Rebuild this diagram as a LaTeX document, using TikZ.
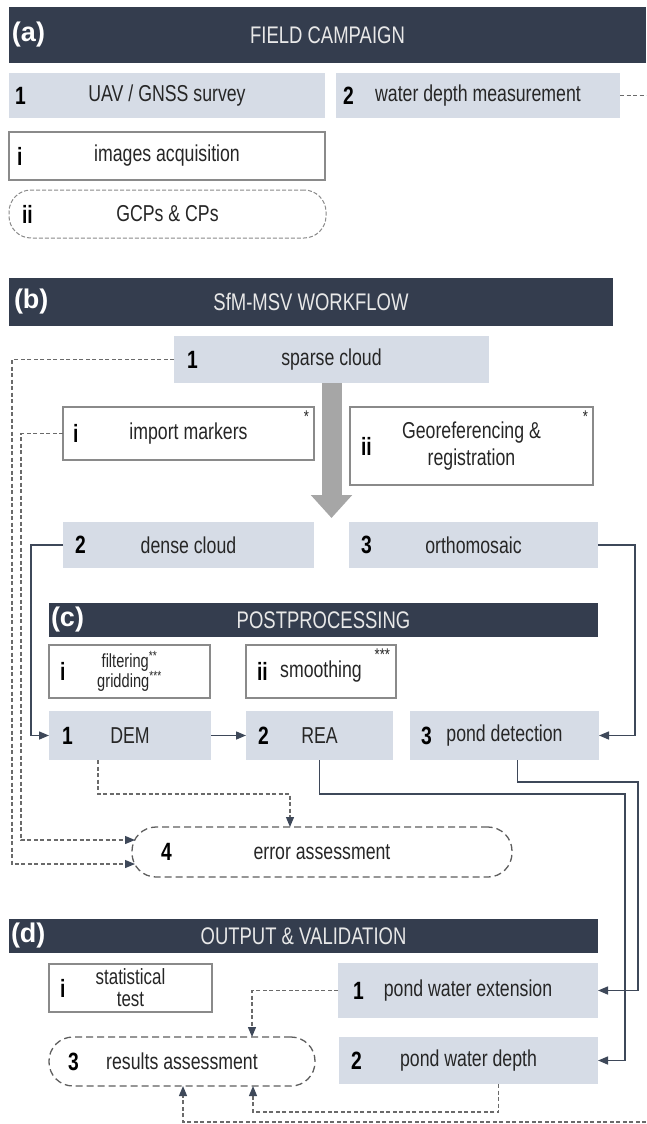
\documentclass[tikz,border=0pt]{standalone}
\usepackage{fontspec}
\setmainfont{Liberation Sans}[FakeStretch=0.77]
\newfontfamily\lblfamily{Liberation Sans}
\usetikzlibrary{arrows.meta,fit,calc}
\definecolor{hdrc}{HTML}{343D4E}
\definecolor{boxc}{HTML}{D6DCE6}
\definecolor{txtc}{HTML}{262626}
\definecolor{bordc}{HTML}{8A8A8A}
\definecolor{linec}{HTML}{3E4859}
\definecolor{dashc}{HTML}{6A6A6A}
\definecolor{capc}{HTML}{5E5E5E}
\definecolor{arrc}{HTML}{A6A6A6}
\definecolor{hdrtxt}{HTML}{E8E8E8}
\newcommand\bxfont{\fontsize{23}{27}\selectfont}
\newcommand\smfont{\fontsize{19}{20}\selectfont}
\newcommand\tightfont{\fontsize{22}{22}\selectfont}
\newcommand\hdfont{\fontsize{24}{28}\selectfont}
\newcommand\nmfont{\bfseries\fontsize{25}{28}\selectfont}
\newcommand\lbfont{\lblfamily\bfseries\fontsize{27}{30}\selectfont}
\newcommand\asfont{\fontsize{17}{18}\selectfont}
% box style, text style, name, x1, y1, x2, y2, text
\newcommand\mkbox[8]{\node[#1, fit={(#4,#5) (#6,#7)}] (#3) {};
  \node[#2] (#3t) at (#3.center) {#8};}
\newcommand\mknum[3]{\node[num] (#1n) at ([xshift=#2pt]#1.west) {#3};}
\begin{document}
\begin{tikzpicture}[x=1pt,y=-1pt,
  every node/.style={inner sep=0pt, outer sep=0pt},
  hdr/.style={fill=hdrc},
  htxt/.style={text=hdrtxt, font=\hdfont},
  fbox/.style={fill=boxc},
  obox/.style={fill=white, draw=bordc, line width=1.1pt},
  capbox/.style={draw=capc, line width=1.3pt, dash pattern=on 7pt off 4pt, rounded corners=24pt},
  lcap/.style={draw=bordc, line width=1pt, dash pattern=on 4pt off 2pt, rounded corners=22pt},
  btxt/.style={text=txtc, font=\bxfont, align=center},
  stxt/.style={text=txtc, font=\smfont, align=center},
  ttxt/.style={text=txtc, font=\tightfont, align=center},
  num/.style={font=\nmfont, text=black, anchor=west},
  lbl/.style={font=\lbfont, text=white, anchor=west},
  ast/.style={font=\asfont, text=txtc, anchor=north east},
  sconn/.style={draw=linec, line width=1.5pt, -{Triangle[length=10pt,width=8pt]}},
  dconn/.style={draw=dashc, line width=1.2pt, dash pattern=on 4pt off 2.5pt, -{Triangle[length=10pt,width=8pt,color=linec,fill=linec]}},
  dline/.style={draw=dashc, line width=1.2pt, dash pattern=on 4pt off 2.5pt},
]
\fill[white] (0,0) rectangle (646,1124);
\useasboundingbox (0,0) rectangle (646,1124);

% ---------- (a)
\mkbox{hdr}{htxt}{ha}{9}{7}{646}{63}{FIELD CAMPAIGN}
\node[lbl] at ([xshift=3pt]ha.west) {(a)};
\mkbox{fbox}{btxt}{a1}{9}{73}{325}{118}{UAV / GNSS survey}
\mknum{a1}{6}{1}
\mkbox{fbox}{btxt}{a2}{336}{73}{620}{118}{water depth measurement}
\mknum{a2}{7}{2}
\mkbox{obox}{btxt}{ai}{9}{132}{325}{180}{images acquisition}
\mknum{ai}{8}{i}
\mkbox{lcap}{btxt}{aii}{9}{190}{326}{238}{GCPs \& CPs}
\mknum{aii}{13}{ii}
\coordinate (aend) at (646,95.5);
\draw[dline] (a2.east) -- (aend);

% ---------- (b)
\mkbox{hdr}{htxt}{hb}{9}{278}{613}{326}{SfM-MSV WORKFLOW}
\node[lbl] at ([xshift=5pt]hb.west) {(b)};
\mkbox{fbox}{btxt}{b1}{174}{336}{489}{383}{sparse cloud}
\mknum{b1}{13}{1}
\mkbox{obox}{btxt}{bi}{63}{407}{314}{460}{import markers}
\mknum{bi}{10}{i}
\node[ast] at ([xshift=-5pt,yshift=-4pt]bi.north east) {*};
\mkbox{obox}{btxt}{bii}{350}{407}{593}{485}{Georeferencing \&\\registration}
\mknum{bii}{11}{ii}
\node[ast] at ([xshift=-5pt,yshift=-4pt]bii.north east) {*};
\coordinate (btip) at (331.5,518);
\draw[draw=arrc, line width=20pt, -{Triangle[length=23pt,width=40pt,color=arrc,fill=arrc]}] (b1.south) -- (btip);
\mkbox{fbox}{btxt}{b2}{63}{522}{314}{568}{dense cloud}
\mknum{b2}{12}{2}
\mkbox{fbox}{btxt}{b3}{349}{522}{598}{568}{orthomosaic}
\mknum{b3}{12}{3}

% ---------- (c)
\mkbox{hdr}{htxt}{hc}{49}{603}{598}{637}{POSTPROCESSING}
\node[lbl] at ([xshift=2pt]hc.west) {(c)};
\mkbox{obox}{stxt}{ci}{49}{645}{210}{698}{filtering\textsuperscript{**}\\gridding\textsuperscript{***}}
\mknum{ci}{11}{i}
\mkbox{obox}{btxt}{cii}{246}{645}{396}{698}{smoothing}
\mknum{cii}{11}{ii}
\node[ast] at ([xshift=-6pt,yshift=-4pt]cii.north east) {***};
\mkbox{fbox}{btxt}{c1}{49}{711}{211}{760}{DEM}
\mknum{c1}{13}{1}
\mkbox{fbox}{btxt}{c2}{246}{711}{393}{760}{REA}
\mknum{c2}{12}{2}
\mkbox{fbox}{btxt}{c3}{410}{711}{599}{760}{pond detection}
\mknum{c3}{11}{3}
\mkbox{capbox}{btxt}{c4}{132}{827}{512}{877}{error assessment}
\mknum{c4}{29}{4}

% ---------- (d)
\mkbox{hdr}{htxt}{hd}{9}{919}{598}{953}{OUTPUT \& VALIDATION}
\node[lbl] at ([xshift=2pt]hd.west) {(d)};
\mkbox{obox}{ttxt}{di}{49}{964}{212}{1012}{statistical\\test}
\mknum{di}{11}{i}
\mkbox{fbox}{btxt}{d1}{338}{963}{598}{1018}{pond water extension}
\mknum{d1}{15}{1}
\mkbox{capbox}{btxt}{d3}{49}{1037}{315}{1086}{results assessment}
\mknum{d3}{19}{3}
\mkbox{fbox}{btxt}{d2}{339}{1037}{598}{1084}{pond water depth}
\mknum{d2}{12}{2}

% ---------- solid connectors
\draw[sconn] (b2.west) -- ++(-32,0) |- (c1.west);
\draw[sconn] (c1.east) -- (c2.west);
\draw[sconn] (b3.east) -- ++(37,0) |- (c3.east);
\draw[sconn] ([xshift=13pt]c3.south) -- ++(0,22) -| ([xshift=40pt]d1.east) -- (d1.east);
\draw[sconn] (c2.south) -- ++(0,34) -| ([xshift=27pt]d2.east) -- (d2.east);

% ---------- dashed connectors
\draw[dconn] (b1.west) -- (12,359.5) |- ([shift={(3pt,-12pt)}]c4.west);
\draw[dconn] (bi.west) -- (21,433.5) |- ([shift={(3pt,12pt)}]c4.west);
\draw[dconn] ([xshift=-32pt]c1.south) -- ++(0,34) -| ([xshift=-32pt]c4.north);
\draw[dconn] (d1.west) -| ([xshift=70pt]d3.north);
\draw[dconn] ([xshift=30pt]d2.south) -- ++(0,28) -| ([xshift=71pt]d3.south);
\coordinate (bend) at (646,1122);
\draw[dconn] (bend) -| ([xshift=1pt]d3.south);
\end{tikzpicture}
\end{document}
